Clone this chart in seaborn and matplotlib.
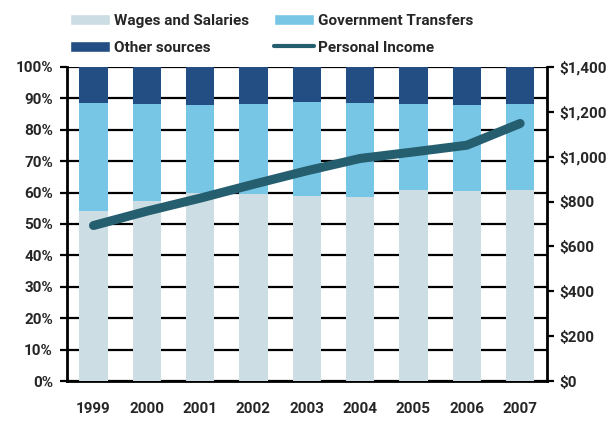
import matplotlib
matplotlib.use("Agg")
import matplotlib.pyplot as plt
import seaborn as sns
import numpy as np
import pandas as pd
from matplotlib.patches import Patch
from matplotlib.lines import Line2D
from matplotlib.ticker import FuncFormatter, MultipleLocator

# data
years = ["1999", "2000", "2001", "2002", "2003", "2004", "2005", "2006", "2007"]
wages = [54.0, 57.2, 60.0, 59.6, 58.8, 58.6, 60.7, 60.4, 60.7]
govt = [34.4, 31.0, 27.9, 28.6, 30.0, 30.0, 27.5, 27.5, 27.5]
other = [11.6, 11.8, 12.1, 11.8, 11.2, 11.4, 11.8, 12.1, 11.8]
income = [693, 757, 815, 877, 937, 992, 1021, 1051, 1148]

c_wages = "#CCDDE3"
c_govt = "#77C6E5"
c_other = "#234E83"
c_line = "#255E6E"

sns.set_style("white")
plt.rcParams["font.family"] = ["Roboto", "DejaVu Sans"]

df = pd.DataFrame({"year": years, "wages": wages, "govt": govt, "other": other})
df["top_govt"] = df["wages"] + df["govt"]
df["top_other"] = df["top_govt"] + df["other"]

fig = plt.figure(figsize=(6.13, 4.21), dpi=100)
ax = fig.add_axes([0.109, 0.095, 0.783, 0.746])

# stacked bars by layering cumulative totals
sns.barplot(data=df, x="year", y="top_other", color=c_other, width=0.53, ax=ax, zorder=3, saturation=1)
sns.barplot(data=df, x="year", y="top_govt", color=c_govt, width=0.53, ax=ax, zorder=3, saturation=1)
sns.barplot(data=df, x="year", y="wages", color=c_wages, width=0.53, ax=ax, zorder=3, saturation=1)
for p in ax.patches:
    p.set_edgecolor("none")

ax.set_ylim(0, 100)
ax.set_xlim(-0.5, 8.5)
ax.yaxis.set_major_locator(MultipleLocator(10))
ax.yaxis.set_major_formatter(FuncFormatter(lambda v, p: f"{v:.0f}%"))
ax.grid(axis="y", color="black", linewidth=1.6, zorder=1)
ax.set_axisbelow(True)
ax.set_xlabel("")
ax.set_ylabel("")

for s in ["left", "bottom"]:
    ax.spines[s].set_color("black")
    ax.spines[s].set_linewidth(2)
ax.spines["top"].set_visible(False)
ax.spines["right"].set_visible(False)

ax.tick_params(axis="y", which="major", direction="out", length=5, width=1.6,
               color="black", labelsize=11, pad=5)
ax.tick_params(axis="x", which="major", length=0, labelsize=11, pad=15)
ax.set_xticks(np.arange(-0.5, 9.0, 1.0), minor=True)
ax.tick_params(axis="x", which="minor", direction="out", length=5, width=1.6, color="black")
for lab in ax.get_xticklabels() + ax.get_yticklabels():
    lab.set_fontweight("bold")

# income on right axis
ax2 = ax.twinx()
sns.lineplot(x=np.arange(len(years)), y=income, color=c_line, linewidth=6.5,
             ax=ax2, solid_capstyle="round", solid_joinstyle="round", zorder=5)
ax2.set_ylim(0, 1400)
ax2.set_xlim(-0.5, 8.5)
ax2.yaxis.set_major_locator(MultipleLocator(200))
ax2.yaxis.set_major_formatter(FuncFormatter(lambda v, p: f"${v:,.0f}"))
for s in ["left", "top", "bottom"]:
    ax2.spines[s].set_visible(False)
ax2.spines["right"].set_color("black")
ax2.spines["right"].set_linewidth(2)
ax2.tick_params(axis="y", direction="out", length=5, width=1.6, color="black",
                labelsize=11, pad=4)
for lab in ax2.get_yticklabels():
    lab.set_fontweight("bold")
ax2.grid(False)

handles = [
    Patch(facecolor=c_wages, label="Wages and Salaries"),
    Patch(facecolor=c_other, label="Other sources"),
    Patch(facecolor=c_govt, label="Government Transfers"),
    Line2D([0], [0], color=c_line, linewidth=3, label="Personal Income"),
]
leg = fig.legend(handles=handles, ncol=2, loc="upper left", bbox_to_anchor=(0.092, 1.0),
                 frameon=False, fontsize=11, handlelength=2.6, handleheight=0.75,
                 columnspacing=1.6, labelspacing=0.85, handletextpad=0.3)
for t in leg.get_texts():
    t.set_fontweight("bold")

fig.savefig("out.png", dpi=100)
